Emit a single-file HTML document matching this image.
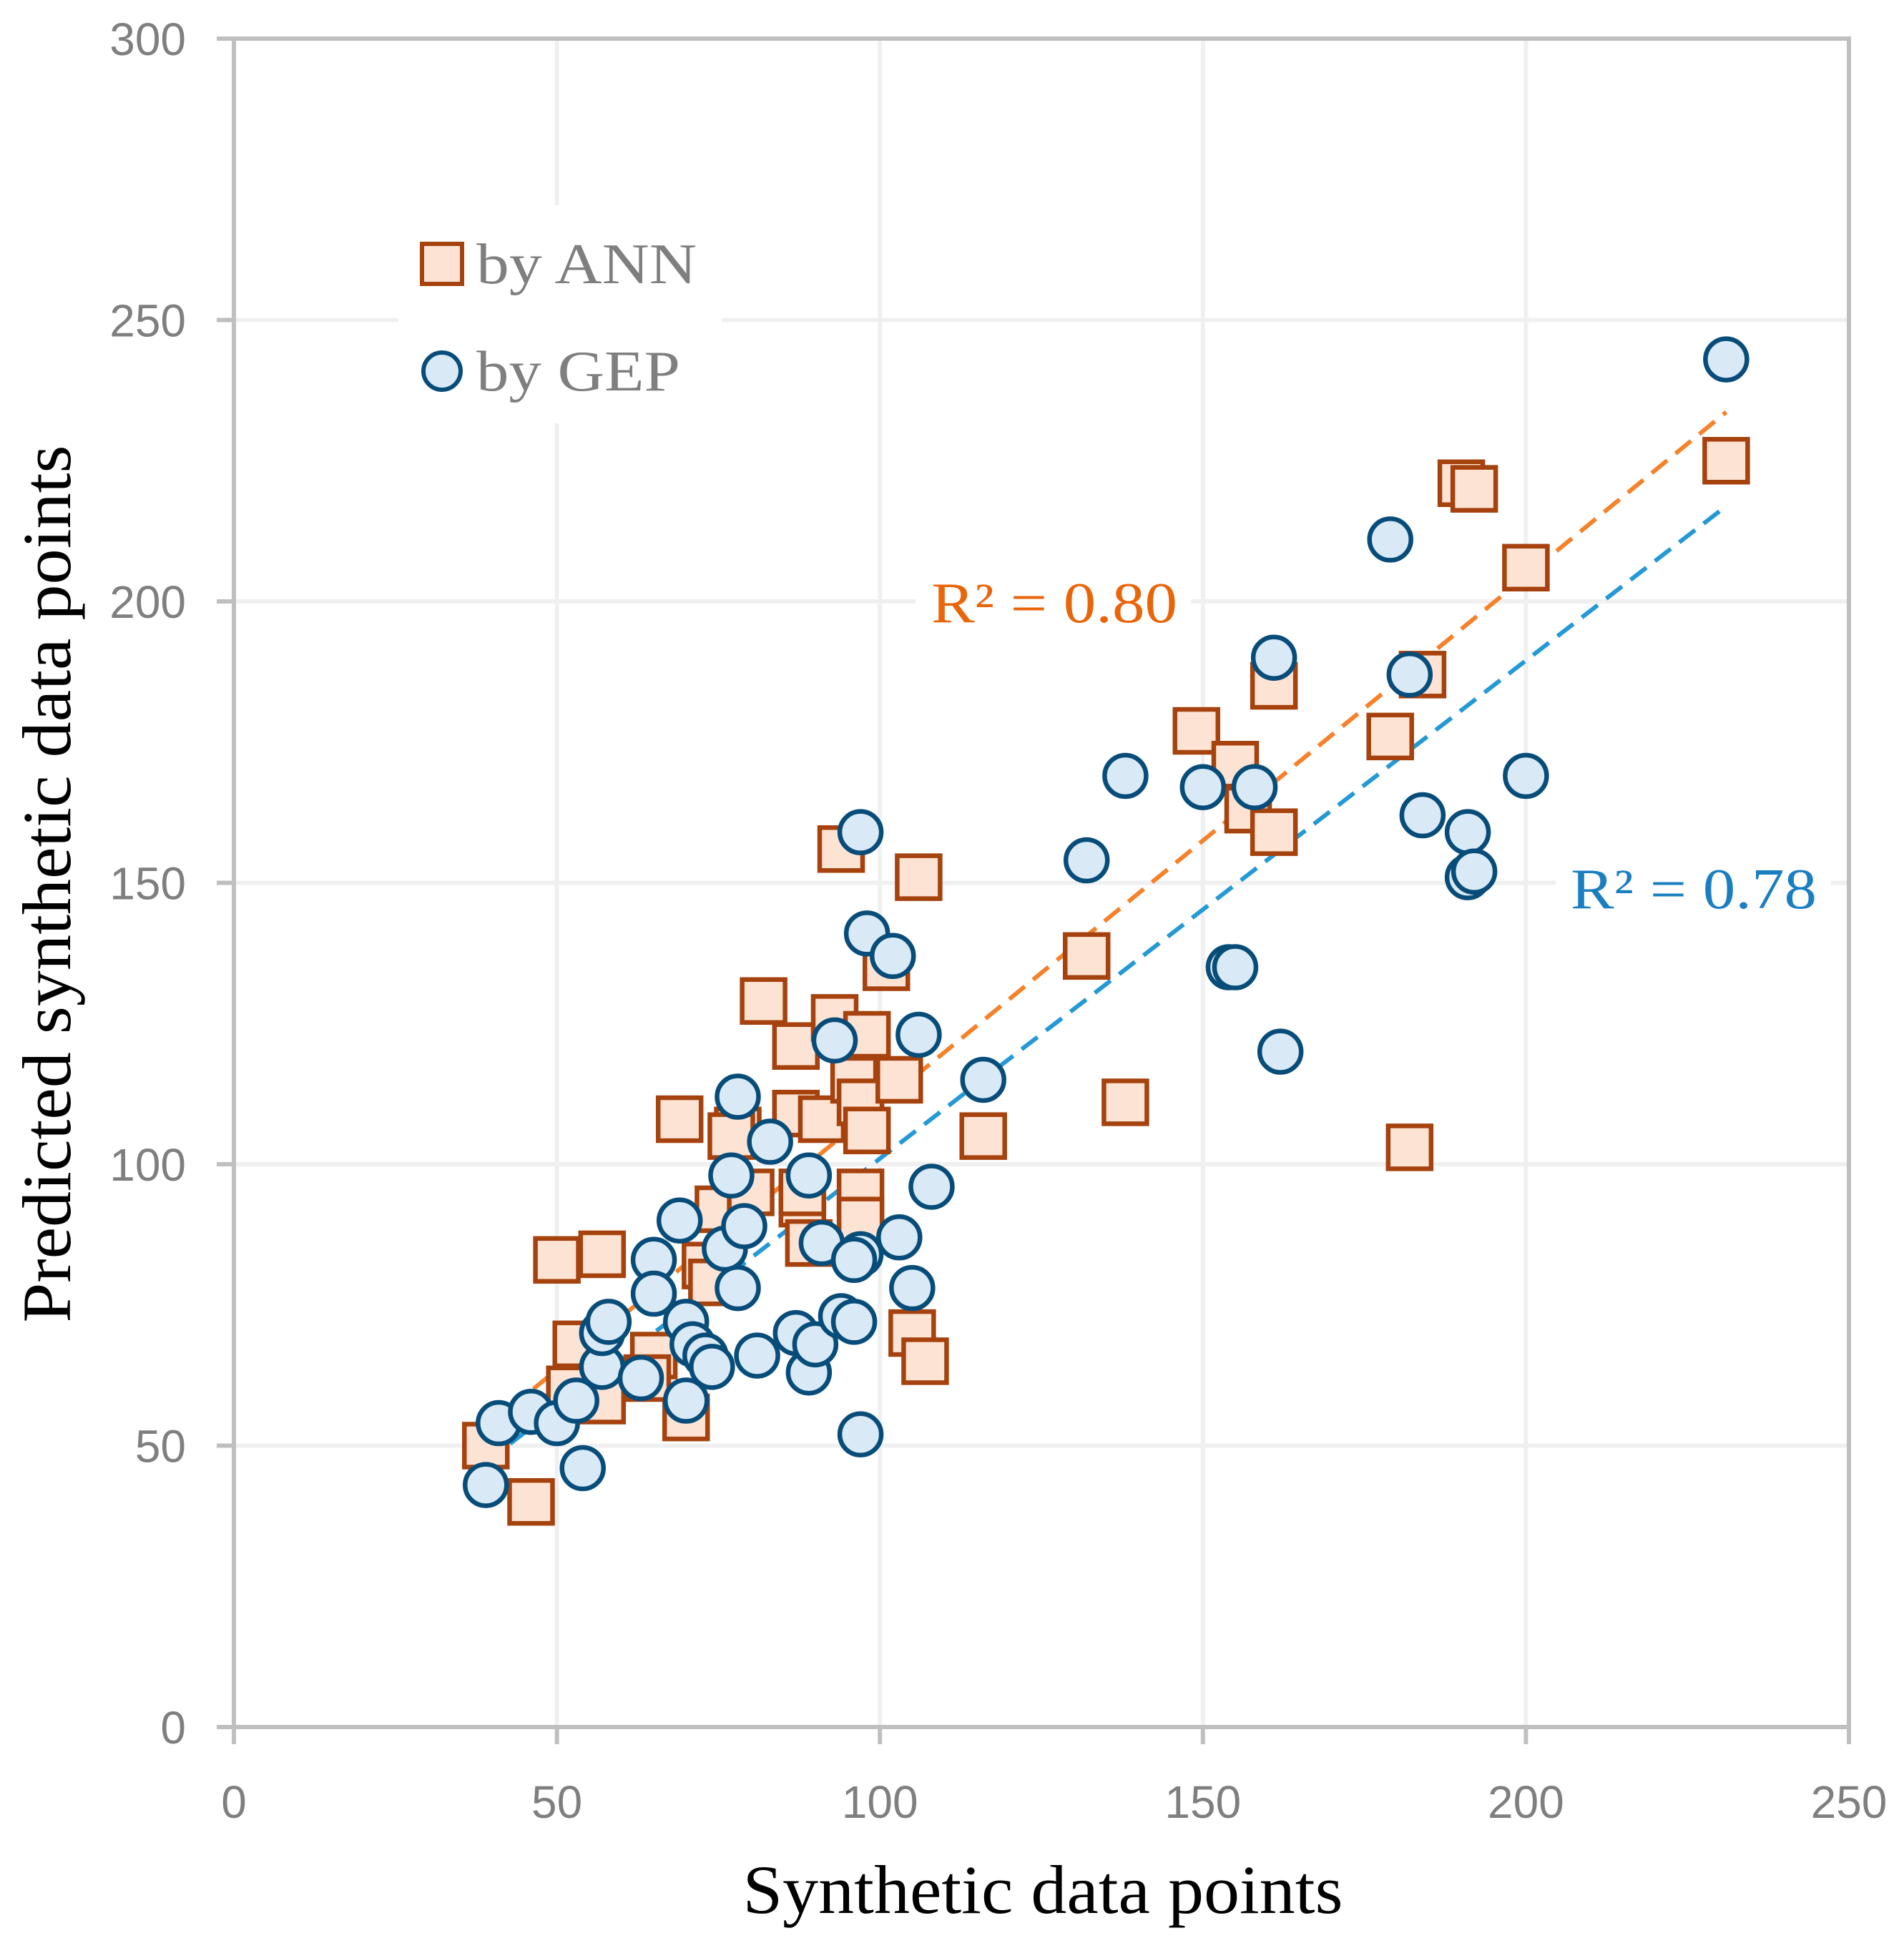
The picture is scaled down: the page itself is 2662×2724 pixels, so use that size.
<!DOCTYPE html>
<html><head><meta charset="utf-8"><style>
html,body{margin:0;padding:0;background:#fff;}
svg{display:block;}
</style></head><body>
<svg id="chart" width="2662" height="2724" viewBox="0 0 2662 2724" xmlns="http://www.w3.org/2000/svg">
<g id="grid"></g>
<g id="axes"></g>
<g id="trend"></g>
<g id="marks"></g>
<g id="labels"></g>
</svg>
<script>
const xTicks = [0, 50, 100, 150, 200, 250];
const yTicks = [0, 50, 100, 150, 200, 250, 300];
const annX = [39,46,50,57,53,57,52,65,70,69,73,74,75,78,77,80,82,87,87,88,89,91,93,94,96,97,98,97,98,97,103,101,106,105,107,116,132,138,149,155,157,161,161,179,182,184,190,192,200,231,88,64];
const annY = [50,40,83,84,68,58,60,66,55,108,82,79,92,106,105,95,129,121,109,93,86,108,126,156,115,111,123,95,106,90,115,135,151,70,65,105,137,111,177,171,163,185,159,176,103,187,221,220,206,225,95,62];
const gepX = [39,41,46,50,54,53,57,57,58,63,65,65,69,70,70,71,73,74,76,77,78,78,79,81,83,87,89,89,90,91,93,94,96,97,97,96,97,98,102,103,105,106,108,116,132,138,150,154,155,158,161,162,179,182,184,191,191,192,200,231];
const gepY = [43,54,56,54,46,58,64,70,72,62,83,77,90,72,58,68,66,64,85,98,78,112,89,66,104,70,63,98,68,86,122,73,72,52,84,83,159,141,137,87,78,123,96,115,154,169,167,135,135,167,190,120,211,187,162,159,151,152,169,243];
const annTrend = [0.94, 16.5];   // slope, intercept
const gepTrend = [0.885, 12.5];
const trendRange = [39, 231];

const L=327,R=2585,T=54,B=2415;
const sx=v=>L+(v/250)*(R-L);
const sy=v=>B-(v/300)*(B-T);
const NS='http://www.w3.org/2000/svg';
function mk(tag,attrs,parent){const e=document.createElementNS(NS,tag);for(const k in attrs)e.setAttribute(k,attrs[k]);parent.appendChild(e);return e;}
const grid=document.getElementById('grid'),axes=document.getElementById('axes'),trend=document.getElementById('trend'),marks=document.getElementById('marks'),labels=document.getElementById('labels');

yTicks.forEach(t=>{
  const g=mk('line',{x1:L,x2:R,y1:sy(t),y2:sy(t),stroke:'#f0f0f0','stroke-width':6},grid);
  
  
  const tk=mk('line',{x1:L-24,x2:L,y1:sy(t),y2:sy(t),stroke:'#bfbfbf','stroke-width':6},axes);
  
  
  const tx=mk('text',{x:260,y:sy(t)+23,'text-anchor':'end','font-family':'Liberation Sans, sans-serif','font-size':64,fill:'#7f7f7f'},labels);
  tx.textContent=t;
  
  
});
xTicks.forEach(t=>{
  const g=mk('line',{x1:sx(t),x2:sx(t),y1:T,y2:B,stroke:'#f0f0f0','stroke-width':6},grid);
  
  
  const tk=mk('line',{x1:sx(t),x2:sx(t),y1:B,y2:B+24,stroke:'#bfbfbf','stroke-width':6},axes);
  
  
  const tx=mk('text',{x:sx(t),y:2542,'text-anchor':'middle','font-family':'Liberation Sans, sans-serif','font-size':64,fill:'#7f7f7f'},labels);
  tx.textContent=t;
  
  
});
const frame=mk('rect',{x:L,y:T,width:R-L,height:B-T,fill:'none',stroke:'#bfbfbf','stroke-width':6},axes);



function drawTrend(p,color,name){
  const l=mk('line',{x1:sx(trendRange[0]),y1:sy(p[0]*trendRange[0]+p[1]),x2:sx(trendRange[1]),y2:sy(p[0]*trendRange[1]+p[1]),stroke:color,'stroke-width':6,'stroke-dasharray':'28 15'},trend);
  
  
}
drawTrend(annTrend,'#f5822a','ann-trendline');
drawTrend(gepTrend,'#2499d6','gep-trendline');

annX.forEach((v,i)=>{
  const r=mk('rect',{x:sx(v)-30,y:sy(annY[i])-30,width:60,height:60,fill:'#fde3d3',stroke:'#a5420e','stroke-width':6.5},marks);
  
  
});
gepX.forEach((v,i)=>{
  const c=mk('circle',{cx:sx(v),cy:sy(gepY[i]),r:29,fill:'#d9eaf6',stroke:'#084d7a','stroke-width':6.5},marks);
  
  
});
</script>
<svg style="position:absolute;left:0;top:0" width="2662" height="2724">
<rect x="557" y="287" width="452" height="305" fill="#fff"/>
<rect x="590" y="341" width="56" height="56" fill="#fde3d3" stroke="#a5420e" stroke-width="6"/>
<text x="666" y="396" font-family="Liberation Serif, serif" font-size="80" fill="#7f7f7f" textLength="308" lengthAdjust="spacingAndGlyphs">by ANN</text>
<circle cx="618" cy="519" r="26" fill="#d9eaf6" stroke="#084d7a" stroke-width="6"/>
<text x="666" y="546" font-family="Liberation Serif, serif" font-size="80" fill="#7f7f7f" textLength="285" lengthAdjust="spacingAndGlyphs">by GEP</text>
<rect x="1280" y="800" width="385" height="90" fill="#fff"/>
<text x="1302" y="870" font-family="Liberation Serif, serif" font-size="80" fill="#e8650a" textLength="344" lengthAdjust="spacingAndGlyphs">R² = 0.80</text>
<rect x="2175" y="1195" width="385" height="100" fill="#fff"/>
<text x="2196" y="1270" font-family="Liberation Serif, serif" font-size="80" fill="#1a7fc1" textLength="344" lengthAdjust="spacingAndGlyphs">R² = 0.78</text>
<text x="1458" y="2675" text-anchor="middle" font-family="Liberation Serif, serif" font-size="96" fill="#000" textLength="839" lengthAdjust="spacingAndGlyphs">Synthetic data points</text>
<text transform="translate(98,1236) rotate(-90)" text-anchor="middle" font-family="Liberation Serif, serif" font-size="96" fill="#000" textLength="1227" lengthAdjust="spacingAndGlyphs">Predicted synthetic data points</text>
</svg>
</body></html>
